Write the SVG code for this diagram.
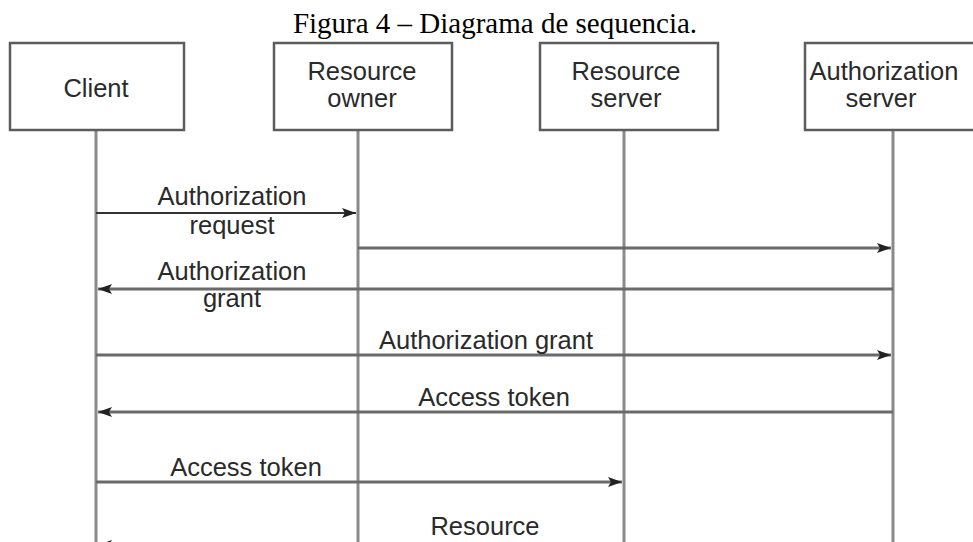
<svg xmlns="http://www.w3.org/2000/svg" width="973" height="542" viewBox="0 0 973 542">
  <style>
    .title { font-family: "Liberation Serif", "Times New Roman", serif; font-size: 29px; fill: #000; text-anchor: middle; }
    .lbl { font-family: "Liberation Sans", Arial, sans-serif; font-size: 25.5px; fill: #2a2a2a; text-anchor: middle; }
    .box { fill: #fff; stroke: #5c5c5c; stroke-width: 2.5; }
    .life { stroke: #8a8a8a; stroke-width: 3; fill: none; }
    .msg { stroke: #6a6a6a; stroke-width: 3; fill: none; marker-end: url(#arr); }
    .msg1 { stroke: #333; stroke-width: 2; fill: none; marker-end: url(#arr); }
  </style>
  <defs>
    <marker id="arr" viewBox="0 0 14 10" refX="14" refY="5" markerWidth="14" markerHeight="10" markerUnits="userSpaceOnUse" orient="auto">
      <path d="M0,0 L14,5 L0,10 L3,5 Z" fill="#222"/>
    </marker>
  </defs>
  <rect width="973" height="542" fill="#fff"/>
  <text class="title" x="495" y="33">Figura 4 – Diagrama de sequencia.</text>

  <g id="client">
    <line class="life" x1="96" y1="130" x2="96" y2="542"/>
    <rect class="box" x="10" y="43" width="174" height="87"/>
    <text class="lbl" x="96" y="97">Client</text>
  </g>
  <g id="resource-owner">
    <line class="life" x1="358" y1="130" x2="358" y2="542"/>
    <rect class="box" x="274" y="43" width="178" height="87"/>
    <text class="lbl" x="362" y="80">Resource</text>
    <text class="lbl" x="362" y="107">owner</text>
  </g>
  <g id="resource-server">
    <line class="life" x1="624" y1="130" x2="624" y2="542"/>
    <rect class="box" x="540" y="43" width="178" height="87"/>
    <text class="lbl" x="626" y="80">Resource</text>
    <text class="lbl" x="626" y="107">server</text>
  </g>
  <g id="authorization-server">
    <line class="life" x1="893" y1="130" x2="893" y2="542"/>
    <rect class="box" x="805" y="43" width="180" height="87"/>
    <text class="lbl" x="884" y="80">Authorization</text>
    <text class="lbl" x="881" y="107">server</text>
  </g>

  <g id="connectors">
    <line class="msg1" x1="96" y1="213" x2="356" y2="213"/>
    <text class="lbl" x="232" y="205">Authorization</text>
    <text class="lbl" x="232" y="234">request</text>

    <line class="msg" x1="358" y1="248" x2="891" y2="248"/>

    <line class="msg" x1="893" y1="289" x2="98" y2="289"/>
    <text class="lbl" x="232" y="280">Authorization</text>
    <text class="lbl" x="232" y="307">grant</text>

    <line class="msg" x1="96" y1="355" x2="891" y2="355"/>
    <text class="lbl" x="486" y="349">Authorization grant</text>

    <line class="msg" x1="893" y1="412" x2="98" y2="412"/>
    <text class="lbl" x="494" y="406">Access token</text>

    <line class="msg" x1="96" y1="482" x2="622" y2="482"/>
    <text class="lbl" x="246" y="476">Access token</text>

    <line class="msg" x1="624" y1="545" x2="98" y2="545"/>
    <text class="lbl" x="485" y="535">Resource</text>
  </g>
</svg>
